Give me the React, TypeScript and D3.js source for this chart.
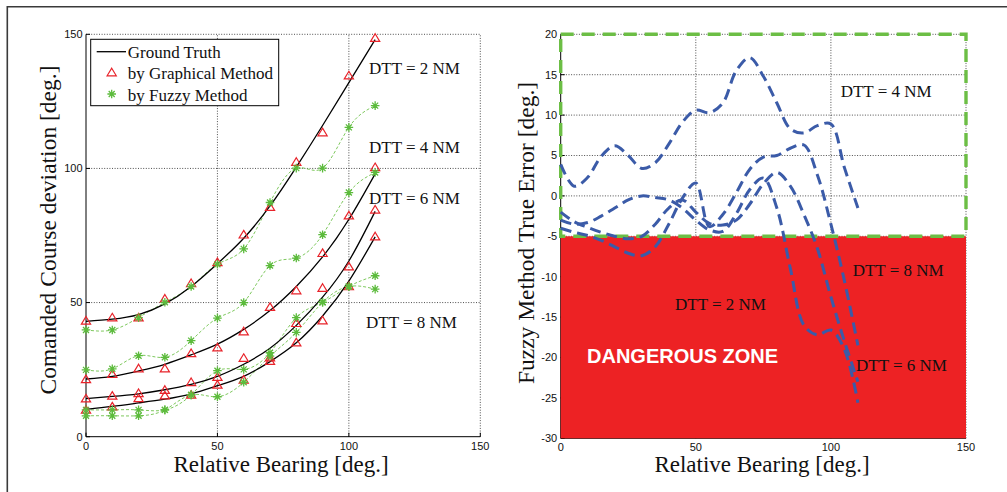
import React from 'react';
import * as d3 from 'd3';

// Relative bearing samples (deg.) used by both method comparisons
const bearings = [0, 10, 20, 30, 40, 50, 60, 70, 80, 90, 100, 110];

// Ground truth commanded course deviation for each DTT
const truth2 = [43, 43.8, 45.5, 49.5, 56, 64.5, 74, 86, 100.5, 116, 132, 148];
const truth4 = [21.5, 22.5, 24.5, 27, 30.5, 34.5, 40, 47, 56, 67, 81, 98];
const truth6 = [14.2, 15, 16, 17.5, 19.5, 22.5, 27, 33, 41.5, 52, 65.5, 84];
const truth8 = [10.2, 11.3, 12.6, 14, 16, 19, 22.5, 28, 35, 45, 58, 74.5];

// Graphical method estimates
const graph2 = [43.2, 44.4, 44.4, 51.4, 57.2, 65, 75.3, 85.6, 102.4, 113.4, 134.6, 148.6];
const graph4 = [21.4, 23.3, 25.4, 25.4, 31.1, 33.2, 39.2, 48.3, 54.5, 68.4, 82.4, 100.4];
const graph6 = [14.2, 15.2, 16.2, 17.4, 20.3, 22.2, 29.3, 29.5, 42.3, 55.4, 63.4, 84.6];
const graph8 = [10, 11.2, 14.3, 15.3, 15.6, 19.3, 21.2, 28.2, 35.1, 43.3, 56, 74.6];

// Fuzzy method estimates
const fuzzy2 = [39.8, 39.8, 44.4, 50.1, 56, 64.3, 70, 87.3, 100.1, 100.1, 115.3, 123.4];
const fuzzy4 = [24.9, 25.3, 30.2, 29.6, 35.8, 44.2, 50, 63.8, 66.6, 75.3, 91, 98.5];
const fuzzy6 = [10, 10, 10, 10, 15.6, 24.6, 25.1, 31.3, 44.4, 50.1, 56, 60];
const fuzzy8 = [7.8, 7.8, 7.8, 10, 15.6, 14.9, 20.3, 30, 38.9, 50.1, 56, 55];

// Fuzzy method true error, sampled every 5 deg. of relative bearing
const errorBearings = [0, 5, 10, 15, 20, 25, 30, 35, 40, 45, 50, 55, 60, 65, 70, 75, 80, 85, 90, 95, 100, 105, 110];
const error2 = [-3.0, -3.5, -3.3, -2.5, -1.5, -0.5, 0.0, -0.2, -0.5, -1.5, -3.0, -4.2, -4.4, -2.2, 0.8, 2.2, -1.5, -9.0, -16.0, -17.2, -16.6, -19.0, -25.6];
const error4 = [3.9, 1.2, 2.3, 4.9, 6.2, 5.0, 3.4, 4.1, 6.4, 9.1, 10.6, 10.3, 11.5, 15.5, 17.1, 14.8, 11.5, 8.3, 7.8, 8.7, 8.9, 3.5, -1.5];
const error6 = [-2.0, -3.2, -3.9, -4.5, -5.0, -5.3, -5.0, -3.5, -1.5, -0.5, -2.0, -3.4, -3.6, -3.0, -1.0, 1.5, 2.9, 1.2, -2.3, -6.5, -12.5, -18.0, -23.0];
const error8 = [-4.0, -4.5, -4.9, -5.5, -6.3, -7.1, -7.4, -6.3, -3.5, -0.3, 1.6, -3.8, -2.3, 0.4, 3.3, 4.8, 5.0, 5.9, 6.3, 2.6, -3.5, -10.5, -18.5];

// Axis ticks
const leftXTicks = [0, 50, 100, 150];
const leftYTicks = [0, 50, 100, 150];
const rightXTicks = [0, 50, 100, 150];
const rightYTicks = [-30, -25, -20, -15, -10, -5, 0, 5, 10, 15, 20];

const legendLabels = ['Ground Truth', 'by Graphical Method', 'by Fuzzy Method'];
const dttLabels = ['DTT = 2 NM', 'DTT = 4 NM', 'DTT = 6 NM', 'DTT = 8 NM'];

const SERIF = '"Liberation Serif", "Times New Roman", serif';
const SANS = '"Liberation Sans", Arial, Helvetica, sans-serif';
const RED = '#e8232a';
const GREEN = '#5cbb3c';
const GREEN_LINE = '#6fc24c';
const BLUE = '#3b5ba8';
const ZONE_RED = '#ed2224';
const ZONE_GREEN = '#6cbe45';

const triPath = 'M0,-4.3 L4.6,3.3 L-4.6,3.3 Z';
const starPath = 'M-4.3,0 L4.3,0 M0,-4.3 L0,4.3 M-3,-3 L3,3 M-3,3 L3,-3';

export default function App() {
  const lx = d3.scaleLinear().domain([0, 150]).range([86, 480.3]);
  const ly = d3.scaleLinear().domain([0, 150]).range([436.7, 34.3]);
  const rx = d3.scaleLinear().domain([0, 150]).range([560.7, 966]);
  const ry = d3.scaleLinear().domain([-30, 20]).range([438.3, 34.3]);

  const leftLine = (vals: number[]) =>
    d3
      .line<number>()
      .x((_, i) => lx(bearings[i]))
      .y((d) => ly(d))
      .curve(d3.curveNatural)(vals) as string;

  const errorLine = (vals: number[]) =>
    d3
      .line<number>()
      .x((_, i) => rx(errorBearings[i]))
      .y((d) => ry(d))
      .curve(d3.curveCatmullRom.alpha(0.5))(vals) as string;

  const truths = [truth2, truth4, truth6, truth8];
  const graphs = [graph2, graph4, graph6, graph8];
  const fuzzies = [fuzzy2, fuzzy4, fuzzy6, fuzzy8];
  const errors = [error2, error4, error6, error8];

  const grid = { stroke: '#222', strokeWidth: 0.8, strokeDasharray: '1 1.6' };

  return (
    <svg
      width={1007}
      height={492}
      viewBox="0 0 1007 492"
      style={{ position: 'absolute', left: 0, top: 0, background: '#fff' }}
    >
      <rect x={0} y={0} width={1007} height={492} fill="#fff" />
      {/* figure frame */}
      <path d="M7.3,492 L7.3,6.7 L1007,6.7" fill="none" stroke="#3a3a3a" strokeWidth={1.6} />

      {/* ---------- left panel ---------- */}
      <g>
        {leftXTicks.filter((t) => t > 0).map((t) => (
          <line key={'lxg' + t} x1={lx(t)} x2={lx(t)} y1={ly(0)} y2={ly(150)} {...grid} />
        ))}
        {leftYTicks.filter((t) => t > 0).map((t) => (
          <line key={'lyg' + t} x1={lx(0)} x2={lx(150)} y1={ly(t)} y2={ly(t)} {...grid} />
        ))}
        <line x1={lx(0)} x2={lx(0)} y1={ly(0)} y2={ly(150)} stroke="#000" strokeWidth={1} />
        <line x1={lx(0)} x2={lx(150)} y1={ly(0)} y2={ly(0)} stroke="#000" strokeWidth={1} />
        {leftYTicks.map((t) => (
          <g key={'lyt' + t}>
            <line x1={lx(0)} x2={lx(0) + 4} y1={ly(t)} y2={ly(t)} stroke="#000" strokeWidth={1} />
            <text x={lx(0) - 3.5} y={ly(t)} dy="0.35em" textAnchor="end" fontFamily={SANS} fontSize={11} fill="#111">
              {t}
            </text>
          </g>
        ))}
        {leftXTicks.map((t) => (
          <g key={'lxt' + t}>
            <line x1={lx(t)} x2={lx(t)} y1={ly(0)} y2={ly(0) - 4} stroke="#000" strokeWidth={1} />
            <text x={lx(t)} y={ly(0) + 13.5} textAnchor="middle" fontFamily={SANS} fontSize={11} fill="#111">
              {t}
            </text>
          </g>
        ))}

        {fuzzies.map((f, k) => (
          <path key={'fl' + k} d={leftLine(f)} fill="none" stroke={GREEN_LINE} strokeWidth={0.9} strokeDasharray="3 2" />
        ))}
        {truths.map((t, k) => (
          <path key={'gt' + k} d={leftLine(t)} fill="none" stroke="#000" strokeWidth={1.3} />
        ))}
        {graphs.map((g, k) =>
          g.map((v, i) => (
            <path
              key={'tr' + k + '-' + i}
              d={triPath}
              transform={`translate(${lx(bearings[i])},${ly(v)})`}
              fill="none"
              stroke={RED}
              strokeWidth={1.2}
            />
          ))
        )}
        {fuzzies.map((f, k) =>
          f.map((v, i) => (
            <path
              key={'st' + k + '-' + i}
              d={starPath}
              transform={`translate(${lx(bearings[i])},${ly(v)})`}
              fill="none"
              stroke={GREEN}
              strokeWidth={1.3}
            />
          ))
        )}

        {/* legend */}
        <rect x={90.7} y={39.3} width={188} height={66.4} fill="#fff" stroke="#000" strokeWidth={1} />
        <line x1={96.7} x2={126} y1={51.7} y2={51.7} stroke="#000" strokeWidth={1.3} />
        <path d={triPath} transform="translate(111.7,72.5)" fill="none" stroke={RED} strokeWidth={1.2} />
        <path d={starPath} transform="translate(111.7,94)" fill="none" stroke={GREEN} strokeWidth={1.3} />
        {legendLabels.map((s, i) => (
          <text key={s} x={127.7} y={57.5 + i * 21.5} fontFamily={SERIF} fontSize={17} fill="#111">
            {s}
          </text>
        ))}

        <text x={369} y={74} fontFamily={SERIF} fontSize={17} fill="#111">{dttLabels[0]}</text>
        <text x={369} y={152.7} fontFamily={SERIF} fontSize={17} fill="#111">{dttLabels[1]}</text>
        <text x={369} y={204} fontFamily={SERIF} fontSize={17} fill="#111">{dttLabels[2]}</text>
        <text x={366} y={327.7} fontFamily={SERIF} fontSize={17} fill="#111">{dttLabels[3]}</text>

        <text x={281} y={471.7} textAnchor="middle" fontFamily={SERIF} fontSize={23} fill="#111">
          Relative Bearing [deg.]
        </text>
        <text
          transform="translate(55.5,230) rotate(-90)"
          textAnchor="middle"
          fontFamily={SERIF}
          fontSize={23.5}
          fill="#111"
        >
          Comanded Course deviation [deg.]
        </text>
      </g>

      {/* ---------- right panel ---------- */}
      <g>
        {rightXTicks.filter((t) => t > 0).map((t) => (
          <line key={'rxg' + t} x1={rx(t)} x2={rx(t)} y1={ry(-30)} y2={ry(20)} {...grid} />
        ))}
        {rightYTicks.filter((t) => t > -30).map((t) => (
          <line key={'ryg' + t} x1={rx(0)} x2={rx(150)} y1={ry(t)} y2={ry(t)} {...grid} />
        ))}
        <line x1={rx(0)} x2={rx(0)} y1={ry(-30)} y2={ry(20)} stroke="#000" strokeWidth={1} />
        <line x1={rx(0)} x2={rx(150)} y1={ry(-30)} y2={ry(-30)} stroke="#000" strokeWidth={1} />
        {rightYTicks.map((t) => (
          <g key={'ryt' + t}>
            <line x1={rx(0)} x2={rx(0) + 4} y1={ry(t)} y2={ry(t)} stroke="#000" strokeWidth={1} />
            <text x={rx(0) - 3.5} y={ry(t)} dy="0.35em" textAnchor="end" fontFamily={SANS} fontSize={11} fill="#111">
              {t}
            </text>
          </g>
        ))}
        {rightXTicks.map((t) => (
          <text key={'rxt' + t} x={rx(t)} y={ry(-30) + 12.5} textAnchor="middle" fontFamily={SANS} fontSize={11} fill="#111">
            {t}
          </text>
        ))}

        {/* dangerous zone below -5 deg. */}
        <rect x={rx(0)} y={ry(-5)} width={rx(150) - rx(0)} height={ry(-30) - ry(-5)} fill={ZONE_RED} />
        {/* safe zone outline */}
        <rect
          x={rx(0)}
          y={ry(20)}
          width={rx(150) - rx(0)}
          height={ry(-5) - ry(20)}
          fill="none"
          stroke={ZONE_GREEN}
          strokeWidth={3.4}
          strokeDasharray="13 8"
        />

        {errors.map((e, k) => (
          <path key={'err' + k} d={errorLine(e)} fill="none" stroke={BLUE} strokeWidth={3} strokeDasharray="11 6" />
        ))}

        <text x={587} y={363} fontFamily={SANS} fontWeight="bold" fontSize={20} fill="#fff">
          DANGEROUS ZONE
        </text>
        <text x={840.7} y={96.7} fontFamily={SERIF} fontSize={17} fill="#111">{dttLabels[1]}</text>
        <text x={852.7} y={275.7} fontFamily={SERIF} fontSize={17} fill="#111">{dttLabels[3]}</text>
        <text x={675} y={310} fontFamily={SERIF} fontSize={17} fill="#111">{dttLabels[0]}</text>
        <text x={856} y={370.7} fontFamily={SERIF} fontSize={17} fill="#111">{dttLabels[2]}</text>

        <text x={762} y={471.7} textAnchor="middle" fontFamily={SERIF} fontSize={23} fill="#111">
          Relative Bearing [deg.]
        </text>
        <text
          transform="translate(534,233) rotate(-90)"
          textAnchor="middle"
          fontFamily={SERIF}
          fontSize={23.5}
          fill="#111"
        >
          Fuzzy Method True Error [deg.]
        </text>
      </g>
    </svg>
  );
}
